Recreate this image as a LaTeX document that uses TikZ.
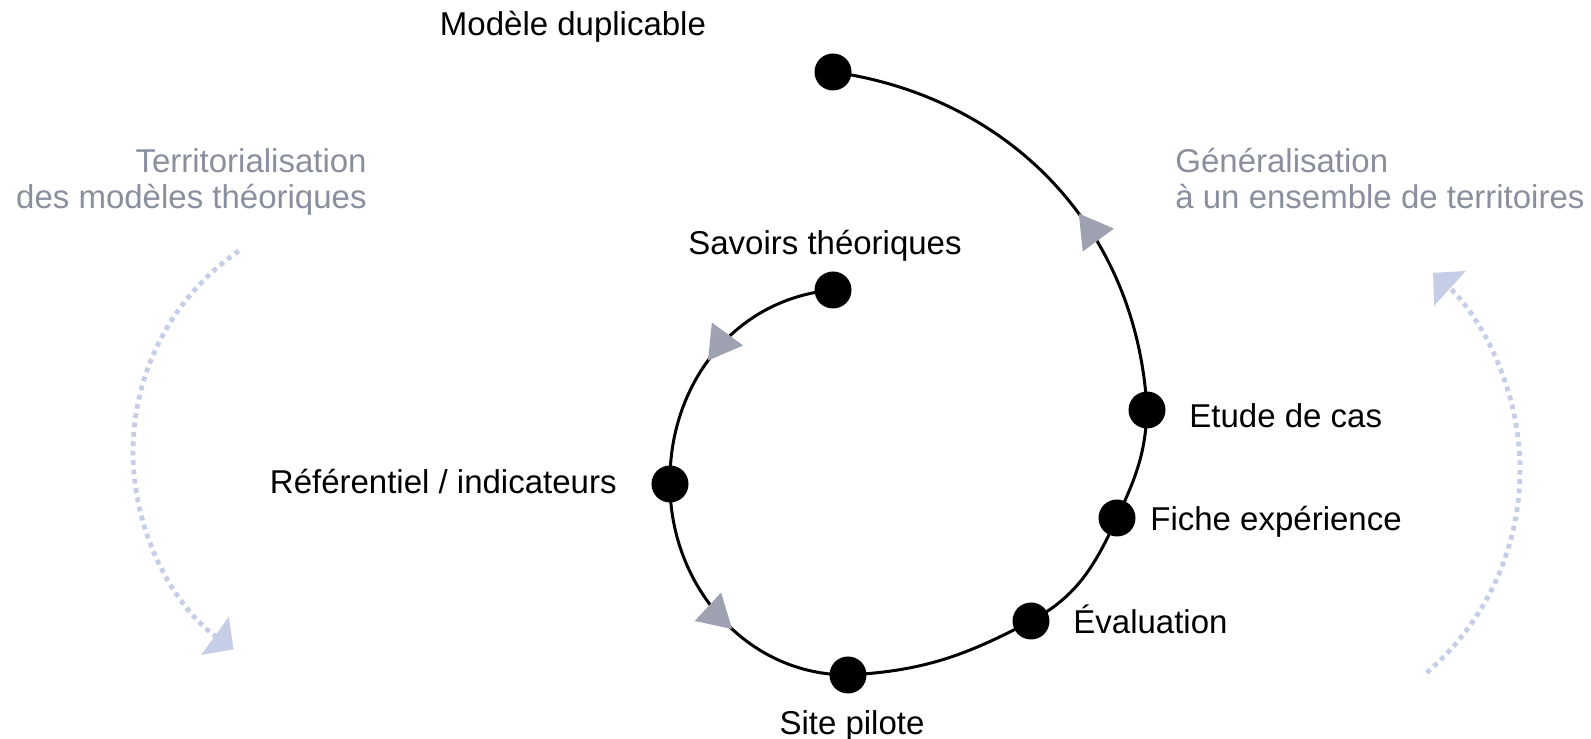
\documentclass[tikz,border=0pt]{standalone}
\usepackage{fontspec}
\setmainfont{Liberation Sans}
\usetikzlibrary{arrows.meta, decorations.markings}
\definecolor{sidegray}{RGB}{138,143,158}
\definecolor{tipgray}{RGB}{158,162,176}
\definecolor{hintblue}{RGB}{197,206,230}
\tikzset{
  stage/.style={circle, fill=black, inner sep=0pt, minimum size=18.5pt},
  caption/.style={inner sep=0pt, font=\fontsize{16.5}{18}\selectfont},
  side/.style={caption, text=sidegray},
  flow/.style={line width=1.5pt},
  midtip/.style={postaction={decorate, decoration={markings,
      mark=at position #1 with {\arrow{Triangle[length=16.5pt,width=19pt,color=tipgray]}}}}},
  hint/.style={hintblue, line width=2.4pt, dash pattern=on 2.4pt off 2.3pt,
      -{Triangle[length=11.5pt,width=23pt]}}
}
\begin{document}
\begin{tikzpicture}[x=0.5pt, y=0.5pt]
\useasboundingbox (0,0) rectangle (1591,739);
% stages
\node[stage] (savoirs) at (833,449) {};
\node[stage] (referentiel) at (670,255) {};
\node[stage] (site) at (848,64) {};
\node[stage] (evaluation) at (1031,118) {};
\node[stage] (fiche) at (1117,221) {};
\node[stage] (etude) at (1147,329) {};
\node[stage] (modele) at (833,667) {};
% spiral, centre to centre
\draw[flow, midtip=0.53] (savoirs.center) to[out=185, in=91] (referentiel.center);
\draw[flow, midtip=0.56] (referentiel.center) to[out=270, in=180] (site.center);
\draw[flow] (site.center) to[out=3, in=208] (evaluation.center);
\draw[flow] (evaluation.center) to[out=28, in=245] (fiche.center);
\draw[flow] (fiche.center) to[out=65, in=268] (etude.center);
\draw[flow, midtip=0.42] (etude.center) to[out=93, in=-8] (modele.center);
% dotted side arcs
\draw[hint] (377,287) ++(124.5:244) arc[start angle=124.5, end angle=234, radius=244];
\draw[hint] (1253,269) ++(-49.4:267) arc[start angle=-49.4, end angle=47.6, radius=267];
% labels
\node[caption, anchor=base] (lmodele) at (573,703) {Modèle duplicable};
\node[caption, anchor=base] (lsavoirs) at (825,484) {Savoirs théoriques};
\node[caption, anchor=base east] (lreferentiel) at (617,245) {Référentiel / indicateurs};
\node[caption, anchor=base west] (letude) at (1189,311) {Etude de cas};
\node[caption, anchor=base west] (lfiche) at (1150,208) {Fiche expérience};
\node[caption, anchor=base west] (levaluation) at (1073,105) {Évaluation};
\node[caption, anchor=base] (lsite) at (852,4) {Site pilote};
\node[side, anchor=base east, align=right] (lterritoires) at (367,530) {Territorialisation\\des modèles théoriques};
\node[side, anchor=base west, align=left] (lgeneral) at (1175,530) {Généralisation\\à un ensemble de territoires};
\end{tikzpicture}
\end{document}
